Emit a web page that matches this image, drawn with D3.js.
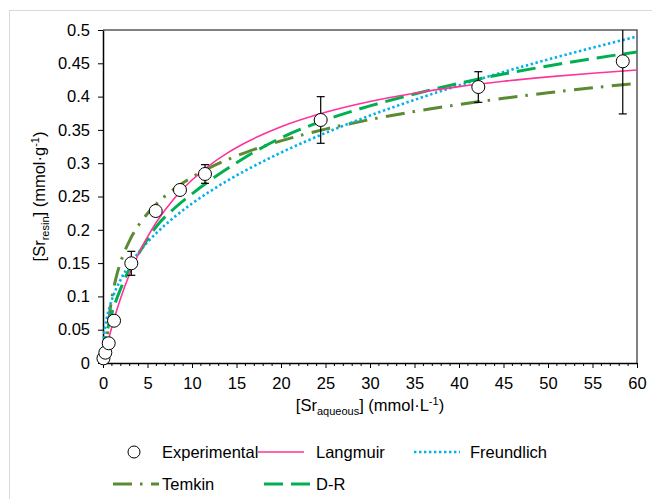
<!DOCTYPE html>
<html><head><meta charset="utf-8">
<script src="https://cdn.jsdelivr.net/npm/d3@7"></script>
<style>body{margin:0;background:#fff}svg{display:block;font-family:"Liberation Sans",Arial,sans-serif}</style>
</head><body><svg id="c" width="652" height="499"></svg>
<script>
// Experimental data
const expC   = [0.05, 0.26, 0.64, 1.24, 3.18, 5.92, 8.65, 11.46, 24.46, 42.17, 58.4];
const expQ   = [0.007, 0.0155, 0.0296, 0.0635, 0.1497, 0.2282, 0.2598, 0.2838, 0.3649, 0.4144, 0.453];
const expErr = [0, 0, 0, 0, 0.018, 0, 0, 0.014, 0.035, 0.023, 0.079];
// Model curves
const fitC       = [0.05,0.1,0.25,0.5,0.75,1,1.5,2,3,4,5,6,8,10,12,14,16,20,25,30,35,40,45,50,55,60];
const langmuirQ  = [0.003,0.006,0.0148,0.0287,0.0419,0.0544,0.0773,0.0981,0.134,0.164,0.1894,0.2113,0.247,0.2748,0.2971,0.3154,0.3306,0.3547,0.3765,0.3927,0.4051,0.415,0.423,0.4296,0.4351,0.44];
const freundlichQ= [0.0288,0.038,0.0547,0.0722,0.0849,0.0953,0.1121,0.1257,0.1479,0.1659,0.1814,0.1951,0.2189,0.2394,0.2575,0.2739,0.2889,0.3159,0.3454,0.3715,0.3951,0.4168,0.4369,0.4557,0.4734,0.4902];
const drQ        = [0.012,0.02,0.036,0.05,0.063,0.075,0.095,0.112,0.142,0.164,0.186,0.205,0.232,0.254,0.274,0.292,0.309,0.338,0.365,0.386,0.404,0.42,0.434,0.446,0.457,0.467];
const temkinC    = [0.3,0.5,0.75,1,1.5,2,3,4,5,6,8,10,12,14,16,20,25,30,35,40,45,50,55,60];
const temkinQ    = [0.003,0.0432,0.0751,0.0978,0.1297,0.1523,0.1842,0.2069,0.2244,0.2388,0.2614,0.279,0.2934,0.3055,0.316,0.3335,0.3511,0.3655,0.3776,0.3881,0.3974,0.4057,0.4132,0.42];
const xTicks = [0,5,10,15,20,25,30,35,40,45,50,55,60];
const yTicks = [0,0.05,0.1,0.15,0.2,0.25,0.3,0.35,0.4,0.45,0.5];

const svg = d3.select("#c");
const L=103, R=637, T=30, B=363;
const FS = 16.5;
const x = d3.scaleLinear().domain([0,60]).range([L,R]);
const y = d3.scaleLinear().domain([0,0.5]).range([B,T]);

// outer chart border
svg.append("rect").attr("x",9.5).attr("y",10.5).attr("width",700).attr("height",600)
  .attr("fill","none").attr("stroke","#D9D9D9").attr("stroke-width",1);

// frame top / right
svg.append("path").attr("d",`M${L},${T}H${R}V${B}`).attr("fill","none").attr("stroke","#595959").attr("stroke-width",1.5);

// axes
const xAxis = d3.axisBottom(x).tickValues(xTicks).tickSize(5).tickSizeOuter(0).tickPadding(9).tickFormat(d3.format("d"));
const gx = svg.append("g").attr("transform",`translate(0,${B})`).call(xAxis);
// minor ticks
gx.selectAll(".minor").data(d3.range(0,61,1).filter(v=>v%5!==0)).join("line")
  .attr("x1",d=>x(d)).attr("x2",d=>x(d)).attr("y1",0).attr("y2",3).attr("stroke","#000");
const yAxis = d3.axisLeft(y).tickValues(yTicks).tickSize(5).tickSizeOuter(0).tickPadding(8).tickFormat(d=>String(+d.toFixed(2)));
const gy = svg.append("g").attr("transform",`translate(${L},0)`).call(yAxis);
[gx,gy].forEach(g=>{
  g.select(".domain").attr("stroke","#000").attr("stroke-width",1.5);
  g.selectAll(".tick line").attr("stroke","#000");
  g.selectAll("text").attr("font-size",FS).attr("fill","#000").attr("font-family","Liberation Sans, Arial, sans-serif");
});

// clip
svg.append("clipPath").attr("id","pc").append("rect").attr("x",L-8).attr("y",T).attr("width",R-L+8).attr("height",B-T+8);
const plot = svg.append("g").attr("clip-path","url(#pc)");

const line = d3.line().curve(d3.curveMonotoneX).x(d=>x(d[0])).y(d=>y(d[1]));
const styles = {
  Langmuir:{color:"#FF3399",w:1.6,dash:null,cap:"butt"},
  Freundlich:{color:"#00B0F0",w:2.6,dash:"2.4 2.6",cap:"butt"},
  Temkin:{color:"#5A8A32",w:3,dash:"19 8 2.5 8.5",cap:"butt"},
  "D-R":{color:"#00B050",w:3,dash:"19 8",cap:"butt"}
};
const series = [
  ["Temkin", d3.zip(temkinC,temkinQ)],
  ["Freundlich", d3.zip(fitC,freundlichQ)],
  ["D-R", d3.zip(fitC,drQ)],
  ["Langmuir", d3.zip(fitC,langmuirQ)]
];
series.forEach(([name,pts])=>{
  const s=styles[name];
  plot.append("path").attr("d",line(pts)).attr("fill","none").attr("stroke",s.color)
    .attr("stroke-width",s.w).attr("stroke-dasharray",s.dash).attr("stroke-linecap",s.cap);
});

// error bars
const exp = d3.range(expC.length).map(i=>({c:expC[i],q:expQ[i],e:expErr[i]}));
const eb = plot.append("g").attr("stroke","#000").attr("stroke-width",1.2);
exp.filter(d=>d.e>0).forEach(d=>{
  const cx=x(d.c);
  eb.append("line").attr("x1",cx).attr("x2",cx).attr("y1",y(d.q-d.e)).attr("y2",y(d.q+d.e));
  [d.q-d.e,d.q+d.e].forEach(v=>eb.append("line").attr("x1",cx-4).attr("x2",cx+4).attr("y1",y(v)).attr("y2",y(v)));
});
// points
plot.append("g").selectAll("circle").data(exp).join("circle")
  .attr("cx",d=>x(d.c)).attr("cy",d=>y(d.q)).attr("r",6.5)
  .attr("fill","#fff").attr("stroke","#000").attr("stroke-width",1);

// axis titles
const xt = svg.append("text").attr("x",(L+R)/2).attr("y",411).attr("text-anchor","middle").attr("font-size",FS);
xt.append("tspan").text("[Sr");
xt.append("tspan").text("aqueous").attr("font-size",11).attr("dy",4);
xt.append("tspan").text("] (mmol·L").attr("dy",-4);
xt.append("tspan").text("-1").attr("font-size",11).attr("dy",-6);
xt.append("tspan").text(")").attr("dy",6);

const yt = svg.append("text").attr("transform",`translate(45,${(T+B)/2}) rotate(-90)`).attr("text-anchor","middle").attr("font-size",FS);
yt.append("tspan").text("[Sr");
yt.append("tspan").text("resin").attr("font-size",11).attr("dy",4);
yt.append("tspan").text("] (mmol·g").attr("dy",-4);
yt.append("tspan").text("-1").attr("font-size",11).attr("dy",-6);
yt.append("tspan").text(")").attr("dy",6);

// legend
const legendItems = [
  {name:"Experimental", type:"marker", lx:113, tx:162, ly:452},
  {name:"Langmuir", type:"Langmuir", lx:258, tx:316, ly:452},
  {name:"Freundlich", type:"Freundlich", lx:414, tx:470, ly:452},
  {name:"Temkin", type:"Temkin", lx:113, tx:162, ly:484},
  {name:"D-R", type:"D-R", lx:264, tx:316, ly:484}
];
const lg = svg.append("g");
legendItems.forEach(it=>{
  if(it.type==="marker"){
    lg.append("circle").attr("cx",it.lx+21).attr("cy",it.ly).attr("r",6).attr("fill","#fff").attr("stroke","#000");
  } else {
    const s=styles[it.type];
    lg.append("line").attr("x1",it.lx).attr("x2",it.lx+46).attr("y1",it.ly).attr("y2",it.ly)
      .attr("stroke",s.color).attr("stroke-width",s.w).attr("stroke-dasharray",s.dash);
  }
  lg.append("text").attr("x",it.tx).attr("y",it.ly+6).attr("font-size",FS).text(it.name);
});
</script></body></html>
